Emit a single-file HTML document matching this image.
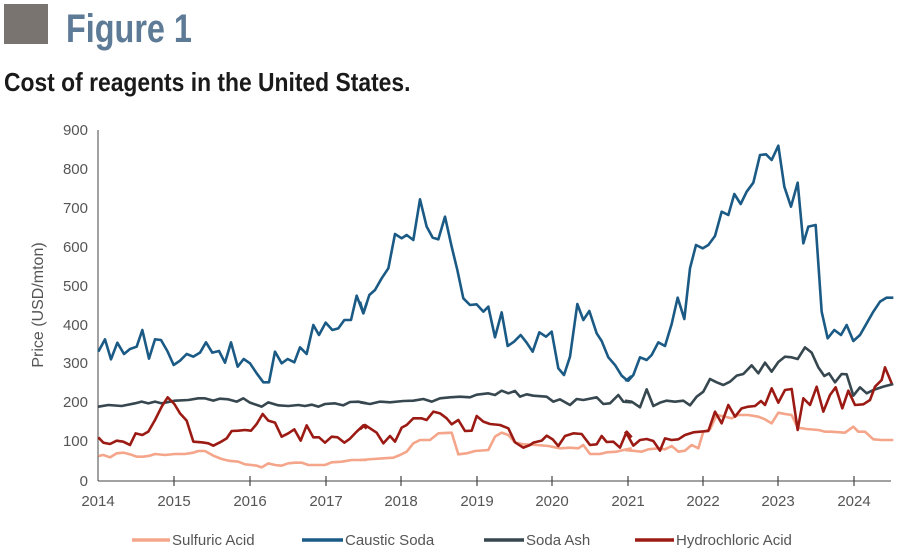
<!DOCTYPE html>
<html><head><meta charset="utf-8"><style>
body{margin:0;background:#fff;width:900px;height:551px;overflow:hidden;}
svg{display:block}
</style></head><body>
<svg width="900" height="551" viewBox="0 0 900 551" xmlns="http://www.w3.org/2000/svg" font-family="Liberation Sans, sans-serif">
<rect x="4" y="4" width="44" height="40" fill="#7a7471"/>
<text transform="translate(66,42) scale(0.81,1)" font-weight="bold" font-size="40" fill="#5d7a96">Figure 1</text>
<text transform="translate(4,91) scale(0.88,1)" font-weight="bold" font-size="26" fill="#1a1a1a">Cost of reagents in the United States.</text>
<g stroke="#444" stroke-width="1" fill="none">
<line x1="98" y1="130" x2="98" y2="481"/>
<line x1="98" y1="481" x2="891" y2="481"/>
</g>
<g id="yt" stroke="#444" stroke-width="1"></g>
<g fill="#555" font-size="15" text-anchor="end">
<text x="88" y="135">900</text><text x="88" y="174">800</text><text x="88" y="213">700</text><text x="88" y="252">600</text><text x="88" y="291">500</text><text x="88" y="330">400</text><text x="88" y="368">300</text><text x="88" y="407">200</text><text x="88" y="446">100</text><text x="88" y="486">0</text>
</g>
<g fill="#555" font-size="15" text-anchor="middle">
<text x="98" y="506">2014</text><text x="174" y="506">2015</text><text x="250" y="506">2016</text><text x="326" y="506">2017</text><text x="401" y="506">2018</text><text x="477" y="506">2019</text><text x="552" y="506">2020</text><text x="628" y="506">2021</text><text x="703" y="506">2022</text><text x="778" y="506">2023</text><text x="854" y="506">2024</text>
</g>
<g stroke="#444" stroke-width="1.2">
<line x1="174" y1="476" x2="174" y2="486"/><line x1="250" y1="476" x2="250" y2="486"/><line x1="326" y1="476" x2="326" y2="486"/><line x1="401" y1="476" x2="401" y2="486"/><line x1="477" y1="476" x2="477" y2="486"/><line x1="552" y1="476" x2="552" y2="486"/><line x1="628" y1="476" x2="628" y2="486"/><line x1="703" y1="476" x2="703" y2="486"/><line x1="778" y1="476" x2="778" y2="486"/><line x1="854" y1="476" x2="854" y2="486"/>
</g>
<text transform="translate(43,305) rotate(-90)" fill="#555" font-size="16" text-anchor="middle">Price (USD/mton)</text>

<g fill="none" stroke-width="2.6" stroke-linejoin="round">
<g transform="translate(95,150) scale(0.33333)">
<polyline vector-effect="non-scaling-stroke" stroke="#f4a58a" points="10,918 25,915 45,922 65,910 85,908 105,913 125,920 145,920 165,917 180,912 210,915 240,912 270,912 295,908 310,903 330,903 355,917 380,927 400,932 430,935 450,943 470,945 485,947 500,952 520,940 540,945 560,947 580,940 600,938 620,938 640,945 660,945 690,945 710,937 740,935 770,930 815,930"/>
<polyline vector-effect="non-scaling-stroke" stroke="#37474f" points="10,770 40,765 80,768 120,760 140,755 160,760 180,755 200,760 240,752 280,750 310,745 330,745 355,752 375,746 400,748 425,755 445,745 465,758 500,770 520,757 550,766 580,768 610,765 630,768 650,764 670,770 690,762 720,760 745,766 765,756 790,755 815,760"/>
<polyline vector-effect="non-scaling-stroke" stroke="#9b1b14" points="10,862 25,878 45,882 65,872 85,875 105,885 122,850 142,855 160,845 180,810 200,770 218,742 238,762 255,790 275,812 295,875 320,877 340,880 355,887 375,877 395,865 410,843 430,842 450,840 468,842 485,822 503,792 520,812 540,818 560,860 580,850 598,838 617,872 635,826 655,862 672,862 690,878 710,860 728,862 748,878 765,866 785,845 805,826 815,836"/>
<polyline vector-effect="non-scaling-stroke" stroke="#1a5a85" points="10,605 30,568 48,628 67,578 87,612 105,597 125,590 142,540 162,626 180,568 198,570 217,603 236,645 255,632 275,612 295,620 315,608 333,577 352,608 372,603 390,638 408,577 428,650 446,627 465,640 485,670 505,697 522,697 540,605 560,640 578,627 598,637 615,592 635,612 655,525 672,555 692,518 712,540 730,535 748,510 768,510 785,437 805,490 815,460"/>
</g>
<g transform="translate(360,150) scale(0.33333)">
<polyline vector-effect="non-scaling-stroke" stroke="#f4a58a" points="0,930 40,927 100,923 120,915 140,905 160,880 180,870 210,870 235,850 275,848 295,913 320,910 345,903 385,900 405,860 425,848 445,855 465,877 490,883 530,885 565,888 600,895 630,893 655,895 670,885 690,912 720,912 740,907 770,905 790,900 815,895"/>
<polyline vector-effect="non-scaling-stroke" stroke="#37474f" points="0,757 30,762 60,755 90,757 130,753 160,752 190,747 215,755 240,745 270,742 300,740 330,742 350,734 385,730 405,735 425,722 445,730 465,723 480,740 500,733 520,737 560,740 580,755 600,748 630,765 650,747 670,750 710,742 730,762 750,760 775,735 790,755 815,757"/>
<polyline vector-effect="non-scaling-stroke" stroke="#9b1b14" points="0,838 15,825 30,835 50,848 70,880 90,858 105,875 125,833 140,825 160,805 185,805 200,810 220,785 240,790 260,805 275,823 295,810 315,843 335,842 350,798 370,815 390,822 420,825 445,835 465,877 490,893 510,885 520,878 545,872 560,857 578,868 595,888 615,858 640,850 665,852 690,885 710,883 725,858 740,876 760,875 780,893 800,845 815,862"/>
<polyline vector-effect="non-scaling-stroke" stroke="#1a5a85" points="0,455 10,490 28,435 45,420 65,385 85,355 105,252 125,265 140,255 160,270 180,148 200,230 218,263 235,268 255,200 275,290 292,360 310,445 330,465 350,463 370,485 385,470 405,562 425,487 443,588 462,575 482,555 500,578 518,605 538,547 558,560 575,545 595,655 612,675 630,620 652,462 670,510 688,483 710,550 725,573 745,622 765,645 785,677 800,690 815,678"/>
</g>
<g transform="translate(625,130) scale(0.33333)">
<polyline vector-effect="non-scaling-stroke" stroke="#f4a58a" points="0,960 20,962 50,965 70,958 100,955 120,958 140,948 160,965 180,962 200,945 220,955 235,905 255,898 275,855 300,860 320,865 340,855 370,855 400,860 420,868 440,880 460,848 480,852 500,855 518,893 545,897 580,900 600,905 620,905 660,908 685,890 700,905 720,905 745,928 770,930 805,930"/>
<polyline vector-effect="non-scaling-stroke" stroke="#37474f" points="0,812 20,815 45,832 65,778 85,828 105,818 125,812 150,815 175,812 195,826 215,800 235,785 255,747 275,757 295,765 315,755 335,737 355,732 380,706 400,730 420,698 440,725 460,696 480,680 500,682 518,687 540,652 560,668 580,712 598,738 612,730 630,757 650,732 665,733 685,797 705,772 725,790 745,780 775,770 805,762"/>
<polyline vector-effect="non-scaling-stroke" stroke="#9b1b14" points="0,905 10,920 25,947 45,930 65,927 85,933 105,962 120,925 140,930 160,928 180,915 205,907 225,905 250,903 270,845 290,880 310,825 330,860 350,835 370,830 390,828 408,813 420,825 440,775 460,818 480,780 500,777 518,900 535,805 555,825 575,770 595,845 615,795 632,772 652,835 670,782 690,825 715,823 735,810 750,770 770,750 780,712 800,760"/>
<polyline vector-effect="non-scaling-stroke" stroke="#1a5a85" points="0,750 10,752 25,735 45,682 65,690 80,675 100,637 120,648 140,582 158,503 178,567 195,415 213,345 233,355 250,345 270,318 290,245 310,255 328,192 347,222 365,185 385,158 405,75 423,73 440,90 460,47 478,170 498,230 518,158 535,340 550,290 572,285 590,545 608,625 628,600 648,615 665,585 685,633 705,615 725,580 745,545 765,515 785,503 805,503"/>
</g>
</g>

<g stroke-width="3.5">
<line x1="132" y1="540" x2="170" y2="540" stroke="#f4a58a"/>
<line x1="302" y1="540" x2="343" y2="540" stroke="#1a5a85"/>
<line x1="484" y1="540" x2="524" y2="540" stroke="#37474f"/>
<line x1="635" y1="540" x2="674" y2="540" stroke="#9b1b14"/>
</g>
<g fill="#555" font-size="15">
<text x="172" y="545">Sulfuric Acid</text>
<text x="345" y="545">Caustic Soda</text>
<text x="526" y="545">Soda Ash</text>
<text x="676" y="545">Hydrochloric Acid</text>
</g>
<script>
var g=document.getElementById('yt'),s='';
for(var v=0;v<=900;v+=20){var y=480.5-v*0.3894;var major=v%100==0;s+='<line x1="'+(major?93:98)+'" y1="'+y+'" x2="'+(major?103:101)+'" y2="'+y+'"/>';}
g.innerHTML=s;
</script>
</svg>
</body></html>
